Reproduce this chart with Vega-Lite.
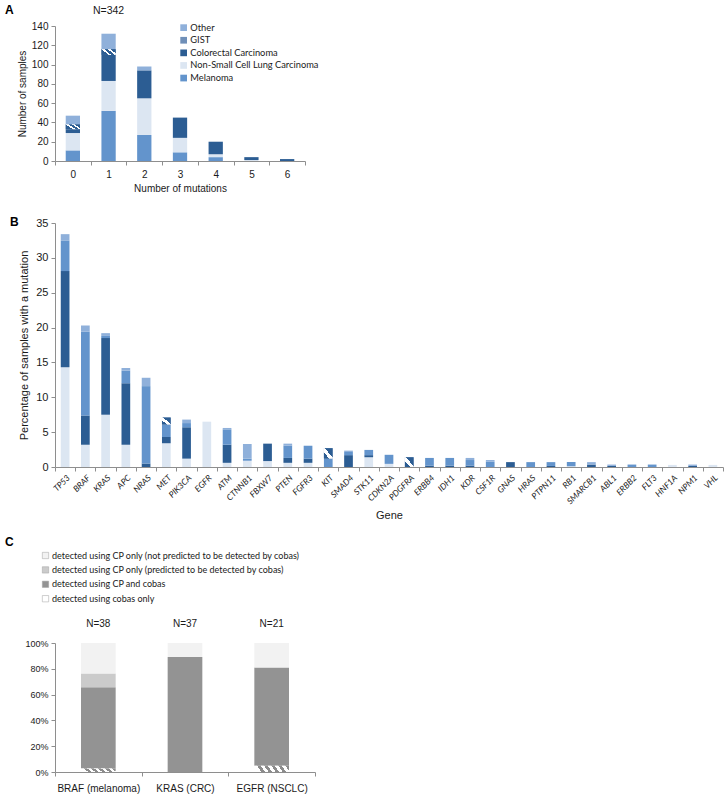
{
  "$schema": "https://vega.github.io/schema/vega-lite/v6.json",
  "background": "white",
  "padding": {"left": 5, "right": 0, "top": 4, "bottom": 2},
  "spacing": 15,
  "resolve": {"scale": {"color": "independent"}, "legend": {"color": "independent"}},
  "config": {
    "view": {"stroke": null},
    "font": "Liberation Sans",
    "axis": {"grid": false, "domainColor": "#8e8e8e", "tickColor": "#8e8e8e", "labelColor": "#1a1a1a", "titleColor": "#1a1a1a", "titleFontWeight": "normal", "labelFontSize": 10, "titleFontSize": 10, "labelFont": "Liberation Sans", "titleFont": "Liberation Sans", "tickSize": 4},
    "legend": {"labelFont": "Lato", "labelColor": "#1a1a1a", "padding": 0, "symbolType": "square", "labelLimit": 400},
    "title": {"font": "Liberation Sans", "fontSize": 12, "fontWeight": "bold", "anchor": "start", "frame": "group", "offset": 2, "color": "#000000"}
  },
  "vconcat": [
    {
      "title": {"text": "A", "dx": -50, "dy": 14},
      "width": 250,
      "height": 135,
      "data": {"values": [
        {"n": "0", "type": "Melanoma", "count": 11},
        {"n": "0", "type": "Non-Small Cell Lung Carcinoma", "count": 18},
        {"n": "0", "type": "Colorectal Carcinoma", "count": 4},
        {"n": "0", "type": "GIST", "count": 5},
        {"n": "0", "type": "Other", "count": 9},
        {"n": "1", "type": "Melanoma", "count": 52},
        {"n": "1", "type": "Non-Small Cell Lung Carcinoma", "count": 31},
        {"n": "1", "type": "Colorectal Carcinoma", "count": 27},
        {"n": "1", "type": "GIST", "count": 6},
        {"n": "1", "type": "Other", "count": 16},
        {"n": "2", "type": "Melanoma", "count": 27},
        {"n": "2", "type": "Non-Small Cell Lung Carcinoma", "count": 38},
        {"n": "2", "type": "Colorectal Carcinoma", "count": 29},
        {"n": "2", "type": "Other", "count": 4},
        {"n": "3", "type": "Melanoma", "count": 9},
        {"n": "3", "type": "Non-Small Cell Lung Carcinoma", "count": 15},
        {"n": "3", "type": "Colorectal Carcinoma", "count": 21},
        {"n": "4", "type": "Melanoma", "count": 4},
        {"n": "4", "type": "Non-Small Cell Lung Carcinoma", "count": 3},
        {"n": "4", "type": "Colorectal Carcinoma", "count": 13},
        {"n": "5", "type": "Non-Small Cell Lung Carcinoma", "count": 1},
        {"n": "5", "type": "Colorectal Carcinoma", "count": 3},
        {"n": "6", "type": "Colorectal Carcinoma", "count": 2}
      ]},
      "transform": [
        {"calculate": "indexof(['Melanoma','Non-Small Cell Lung Carcinoma','Colorectal Carcinoma','GIST','Other'], datum.type)", "as": "ord"},
        {"stack": "count", "groupby": ["n"], "sort": [{"field": "ord", "order": "ascending"}], "as": ["y0", "y1"]}
      ],
      "encoding": {
        "x": {"field": "n", "type": "ordinal", "scale": {"paddingInner": 0, "paddingOuter": 0},
              "axis": {"orient": "bottom", "title": "Number of mutations", "labelAngle": 0, "tickBand": "extent", "labelPadding": 4, "titlePadding": 4}},
        "y": {"field": "y0", "type": "quantitative", "scale": {"domain": [0, 140]},
              "axis": {"title": "Number of samples", "values": [0, 20, 40, 60, 80, 100, 120, 140], "labelPadding": 3, "titlePadding": 4}},
        "y2": {"field": "y1"}
      },
      "layer": [
        {
          "mark": {"type": "bar", "width": {"band": 0.4}},
          "encoding": {
            "color": {"field": "type", "type": "nominal",
                      "scale": {"domain": ["Other", "GIST", "Colorectal Carcinoma", "Non-Small Cell Lung Carcinoma", "Melanoma"],
                                "range": ["#8fb0da", "#6f8fb8", "#2c5d93", "#dce6f2", "#6394cc"]},
                      "legend": {"title": null, "orient": "none", "legendX": 124, "legendY": -3, "symbolSize": 45, "labelFontSize": 9.3, "rowPadding": 2.6, "labelOffset": 2, "symbolStrokeWidth": 0}}
          }
        },
        {
          "transform": [{"filter": "datum.type === 'GIST'"}],
          "mark": {"type": "bar", "width": {"band": 0.4}, "color": {"gradient": "linear", "x1": 0, "y1": 0.5, "x2": 1, "y2": 0, "stops": [
            {"offset": 0, "color": "#2c5d93"}, {"offset": 0.2, "color": "#2c5d93"}, {"offset": 0.2, "color": "#ffffff"}, {"offset": 0.35, "color": "#ffffff"},
            {"offset": 0.35, "color": "#2c5d93"}, {"offset": 0.55, "color": "#2c5d93"}, {"offset": 0.55, "color": "#ffffff"}, {"offset": 0.7, "color": "#ffffff"},
            {"offset": 0.7, "color": "#2c5d93"}, {"offset": 1, "color": "#2c5d93"}]}},
          "encoding": {
            "x": {"field": "n", "type": "ordinal",
                  "axis": {"orient": "top", "title": null, "domain": false, "ticks": false, "tickSize": 0, "labelAngle": 0, "labelPadding": 11, "labelFontSize": 10.5,
                           "labelExpr": "datum.value === '1' ? 'N=342' : ''"}}
          }
        }
      ]
    },
    {
      "title": {"text": ["", "B"], "lineHeight": 8, "dx": -45, "dy": 14},
      "width": 668,
      "height": 244,
      "data": {"values": [
        {"gene": "TP53", "type": "Non-Small Cell Lung Carcinoma", "pct": 14.3},
        {"gene": "TP53", "type": "Colorectal Carcinoma", "pct": 13.8},
        {"gene": "TP53", "type": "Melanoma", "pct": 4.4},
        {"gene": "TP53", "type": "Other", "pct": 0.9},
        {"gene": "BRAF", "type": "Non-Small Cell Lung Carcinoma", "pct": 3.2},
        {"gene": "BRAF", "type": "Colorectal Carcinoma", "pct": 4.2},
        {"gene": "BRAF", "type": "Melanoma", "pct": 12.0},
        {"gene": "BRAF", "type": "Other", "pct": 0.9},
        {"gene": "KRAS", "type": "Non-Small Cell Lung Carcinoma", "pct": 7.5},
        {"gene": "KRAS", "type": "Colorectal Carcinoma", "pct": 11.0},
        {"gene": "KRAS", "type": "Melanoma", "pct": 0.3},
        {"gene": "KRAS", "type": "Other", "pct": 0.4},
        {"gene": "APC", "type": "Non-Small Cell Lung Carcinoma", "pct": 3.2},
        {"gene": "APC", "type": "Colorectal Carcinoma", "pct": 8.8},
        {"gene": "APC", "type": "Melanoma", "pct": 1.8},
        {"gene": "APC", "type": "Other", "pct": 0.4},
        {"gene": "NRAS", "type": "Colorectal Carcinoma", "pct": 0.5},
        {"gene": "NRAS", "type": "Melanoma", "pct": 11.1},
        {"gene": "NRAS", "type": "Other", "pct": 1.2},
        {"gene": "MET", "type": "Non-Small Cell Lung Carcinoma", "pct": 3.4},
        {"gene": "MET", "type": "Colorectal Carcinoma", "pct": 0.9},
        {"gene": "MET", "type": "Melanoma", "pct": 1.8},
        {"gene": "MET", "type": "GIST", "pct": 1.0},
        {"gene": "PIK3CA", "type": "Non-Small Cell Lung Carcinoma", "pct": 1.2},
        {"gene": "PIK3CA", "type": "Colorectal Carcinoma", "pct": 4.5},
        {"gene": "PIK3CA", "type": "Melanoma", "pct": 0.6},
        {"gene": "PIK3CA", "type": "Other", "pct": 0.5},
        {"gene": "EGFR", "type": "Non-Small Cell Lung Carcinoma", "pct": 6.5},
        {"gene": "ATM", "type": "Non-Small Cell Lung Carcinoma", "pct": 0.6},
        {"gene": "ATM", "type": "Colorectal Carcinoma", "pct": 2.6},
        {"gene": "ATM", "type": "Melanoma", "pct": 2.2},
        {"gene": "ATM", "type": "Other", "pct": 0.2},
        {"gene": "CTNNB1", "type": "Non-Small Cell Lung Carcinoma", "pct": 0.9},
        {"gene": "CTNNB1", "type": "Melanoma", "pct": 0.3},
        {"gene": "CTNNB1", "type": "Other", "pct": 2.1},
        {"gene": "FBXW7", "type": "Non-Small Cell Lung Carcinoma", "pct": 0.85},
        {"gene": "FBXW7", "type": "Colorectal Carcinoma", "pct": 2.5},
        {"gene": "PTEN", "type": "Non-Small Cell Lung Carcinoma", "pct": 0.6},
        {"gene": "PTEN", "type": "Colorectal Carcinoma", "pct": 0.7},
        {"gene": "PTEN", "type": "Melanoma", "pct": 1.75},
        {"gene": "PTEN", "type": "Other", "pct": 0.3},
        {"gene": "FGFR3", "type": "Non-Small Cell Lung Carcinoma", "pct": 0.6},
        {"gene": "FGFR3", "type": "Colorectal Carcinoma", "pct": 0.6},
        {"gene": "FGFR3", "type": "Melanoma", "pct": 1.85},
        {"gene": "KIT", "type": "Melanoma", "pct": 1.2},
        {"gene": "KIT", "type": "GIST", "pct": 1.5},
        {"gene": "SMAD4", "type": "Colorectal Carcinoma", "pct": 1.7},
        {"gene": "SMAD4", "type": "Melanoma", "pct": 0.45},
        {"gene": "SMAD4", "type": "Other", "pct": 0.2},
        {"gene": "STK11", "type": "Non-Small Cell Lung Carcinoma", "pct": 1.4},
        {"gene": "STK11", "type": "Colorectal Carcinoma", "pct": 0.3},
        {"gene": "STK11", "type": "Melanoma", "pct": 0.75},
        {"gene": "CDKN2A", "type": "Non-Small Cell Lung Carcinoma", "pct": 0.45},
        {"gene": "CDKN2A", "type": "Melanoma", "pct": 1.3},
        {"gene": "PDGFRA", "type": "GIST", "pct": 1.4},
        {"gene": "ERBB4", "type": "Colorectal Carcinoma", "pct": 0.2},
        {"gene": "ERBB4", "type": "Melanoma", "pct": 1.1},
        {"gene": "IDH1", "type": "Colorectal Carcinoma", "pct": 0.2},
        {"gene": "IDH1", "type": "Melanoma", "pct": 1.1},
        {"gene": "KDR", "type": "Colorectal Carcinoma", "pct": 0.2},
        {"gene": "KDR", "type": "Melanoma", "pct": 0.8},
        {"gene": "KDR", "type": "Other", "pct": 0.3},
        {"gene": "CSF1R", "type": "Melanoma", "pct": 0.75},
        {"gene": "CSF1R", "type": "Other", "pct": 0.25},
        {"gene": "GNAS", "type": "Colorectal Carcinoma", "pct": 0.7},
        {"gene": "HRAS", "type": "Melanoma", "pct": 0.7},
        {"gene": "PTPN11", "type": "Colorectal Carcinoma", "pct": 0.15},
        {"gene": "PTPN11", "type": "Melanoma", "pct": 0.55},
        {"gene": "RB1", "type": "Non-Small Cell Lung Carcinoma", "pct": 0.1},
        {"gene": "RB1", "type": "Melanoma", "pct": 0.6},
        {"gene": "SMARCB1", "type": "Colorectal Carcinoma", "pct": 0.35},
        {"gene": "SMARCB1", "type": "Other", "pct": 0.35},
        {"gene": "ABL1", "type": "Colorectal Carcinoma", "pct": 0.15},
        {"gene": "ABL1", "type": "Other", "pct": 0.2},
        {"gene": "ERBB2", "type": "Melanoma", "pct": 0.35},
        {"gene": "FLT3", "type": "Melanoma", "pct": 0.35},
        {"gene": "HNF1A", "type": "Non-Small Cell Lung Carcinoma", "pct": 0.3},
        {"gene": "NPM1", "type": "Colorectal Carcinoma", "pct": 0.15},
        {"gene": "NPM1", "type": "Other", "pct": 0.2},
        {"gene": "VHL", "type": "Non-Small Cell Lung Carcinoma", "pct": 0.3}
      ]},
      "transform": [
        {"calculate": "indexof(['Non-Small Cell Lung Carcinoma','Colorectal Carcinoma','Melanoma','GIST','Other'], datum.type)", "as": "ord"},
        {"stack": "pct", "groupby": ["gene"], "sort": [{"field": "ord", "order": "ascending"}], "as": ["y0", "y1"]}
      ],
      "encoding": {
        "x": {"field": "gene", "type": "nominal",
              "scale": {"paddingInner": 0, "paddingOuter": 0, "domain": ["TP53","BRAF","KRAS","APC","NRAS","MET","PIK3CA","EGFR","ATM","CTNNB1","FBXW7","PTEN","FGFR3","KIT","SMAD4","STK11","CDKN2A","PDGFRA","ERBB4","IDH1","KDR","CSF1R","GNAS","HRAS","PTPN11","RB1","SMARCB1","ABL1","ERBB2","FLT3","HNF1A","NPM1","VHL"]},
              "axis": {"title": "Gene", "labelAngle": -45, "tickBand": "extent", "labelFont": "Lato", "labelFontStyle": "italic", "labelFontSize": 8.5, "labelPadding": 2, "titleFontSize": 11, "titlePadding": 4}},
        "y": {"field": "y0", "type": "quantitative", "scale": {"domain": [0, 35]},
              "axis": {"title": "Percentage of samples with a mutation", "values": [0, 5, 10, 15, 20, 25, 30, 35], "labelFontSize": 11, "titleFontSize": 11, "labelPadding": 3, "titlePadding": 6}},
        "y2": {"field": "y1"}
      },
      "layer": [
        {
          "mark": {"type": "bar", "width": {"band": 0.43}},
          "encoding": {
            "color": {"field": "type", "type": "nominal",
                      "scale": {"domain": ["Other", "GIST", "Colorectal Carcinoma", "Non-Small Cell Lung Carcinoma", "Melanoma"],
                                "range": ["#8fb0da", "#6f8fb8", "#2c5d93", "#dce6f2", "#6394cc"]},
                      "legend": null}
          }
        },
        {
          "transform": [{"filter": "datum.type === 'GIST'"}],
          "mark": {"type": "bar", "width": {"band": 0.43}, "color": {"gradient": "linear", "x1": 0, "y1": 1, "x2": 1, "y2": 0, "stops": [
            {"offset": 0, "color": "#2c5d93"}, {"offset": 0.3, "color": "#2c5d93"}, {"offset": 0.3, "color": "#ffffff"}, {"offset": 0.55, "color": "#ffffff"},
            {"offset": 0.55, "color": "#2c5d93"}, {"offset": 1, "color": "#2c5d93"}]}}
        }
      ]
    },
    {
      "title": {"text": "C", "dx": -50, "dy": 0, "offset": 2},
      "width": 260,
      "height": 129,
      "data": {"values": [
        {"group": "BRAF (melanoma)", "cat": "detected using cobas only", "n": 1},
        {"group": "BRAF (melanoma)", "cat": "detected using CP and cobas", "n": 24},
        {"group": "BRAF (melanoma)", "cat": "detected using CP only (predicted to be detected by cobas)", "n": 4},
        {"group": "BRAF (melanoma)", "cat": "detected using CP only (not predicted to be detected by cobas)", "n": 9},
        {"group": "KRAS (CRC)", "cat": "detected using CP and cobas", "n": 33},
        {"group": "KRAS (CRC)", "cat": "detected using CP only (not predicted to be detected by cobas)", "n": 4},
        {"group": "EGFR (NSCLC)", "cat": "detected using cobas only", "n": 1},
        {"group": "EGFR (NSCLC)", "cat": "detected using CP and cobas", "n": 16},
        {"group": "EGFR (NSCLC)", "cat": "detected using CP only (not predicted to be detected by cobas)", "n": 4}
      ]},
      "transform": [
        {"calculate": "indexof(['detected using cobas only','detected using CP and cobas','detected using CP only (predicted to be detected by cobas)','detected using CP only (not predicted to be detected by cobas)'], datum.cat)", "as": "ord"},
        {"stack": "n", "groupby": ["group"], "sort": [{"field": "ord", "order": "ascending"}], "offset": "normalize", "as": ["y0", "y1"]}
      ],
      "encoding": {
        "x": {"field": "group", "type": "nominal",
              "scale": {"paddingInner": 0, "paddingOuter": 0, "domain": ["BRAF (melanoma)", "KRAS (CRC)", "EGFR (NSCLC)"]},
              "axis": {"orient": "bottom", "title": null, "labelAngle": 0, "tickBand": "extent", "labelPadding": 7}},
        "y": {"field": "y0", "type": "quantitative", "scale": {"domain": [0, 1]},
              "axis": {"title": null, "format": ".0%", "values": [0, 0.2, 0.4, 0.6, 0.8, 1], "labelFontSize": 9, "labelPadding": 3}},
        "y2": {"field": "y1"}
      },
      "layer": [
        {
          "mark": {"type": "bar", "width": {"band": 0.4}},
          "encoding": {
            "color": {"field": "cat", "type": "nominal",
                      "scale": {"domain": ["detected using CP only (not predicted to be detected by cobas)", "detected using CP only (predicted to be detected by cobas)", "detected using CP and cobas", "detected using cobas only"],
                                "range": ["#f2f2f2", "#cbcbcb", "#939393", "#ffffff"]},
                      "legend": {"title": null, "orient": "none", "legendX": -14, "legendY": -92, "symbolSize": 40, "labelFontSize": 9, "rowPadding": 4.4, "labelOffset": 2, "symbolStrokeColor": "#a0a0a0", "symbolStrokeWidth": 0.5}}
          }
        },
        {
          "transform": [{"filter": "datum.cat === 'detected using cobas only'"}],
          "mark": {"type": "bar", "width": {"band": 0.4}, "color": {"gradient": "linear", "x1": 0, "y1": 0.12, "x2": 1, "y2": 0, "stops": [
            {"offset": 0, "color": "#ffffff"}, {"offset": 0.1, "color": "#ffffff"}, {"offset": 0.1, "color": "#8c8c8c"}, {"offset": 0.2, "color": "#8c8c8c"},
            {"offset": 0.2, "color": "#ffffff"}, {"offset": 0.3, "color": "#ffffff"}, {"offset": 0.3, "color": "#8c8c8c"}, {"offset": 0.4, "color": "#8c8c8c"},
            {"offset": 0.4, "color": "#ffffff"}, {"offset": 0.5, "color": "#ffffff"}, {"offset": 0.5, "color": "#8c8c8c"}, {"offset": 0.6, "color": "#8c8c8c"},
            {"offset": 0.6, "color": "#ffffff"}, {"offset": 0.7, "color": "#ffffff"}, {"offset": 0.7, "color": "#8c8c8c"}, {"offset": 0.8, "color": "#8c8c8c"},
            {"offset": 0.8, "color": "#ffffff"}, {"offset": 0.9, "color": "#ffffff"}, {"offset": 0.9, "color": "#8c8c8c"}, {"offset": 1, "color": "#8c8c8c"}]}},
          "encoding": {
            "x": {"field": "group", "type": "nominal",
                  "axis": {"orient": "top", "title": null, "domain": false, "ticks": false, "tickSize": 0, "labelAngle": 0, "labelPadding": 15, "labelFontSize": 10,
                           "labelExpr": "datum.value === 'BRAF (melanoma)' ? 'N=38' : datum.value === 'KRAS (CRC)' ? 'N=37' : 'N=21'"}}
          }
        }
      ]
    }
  ]
}
